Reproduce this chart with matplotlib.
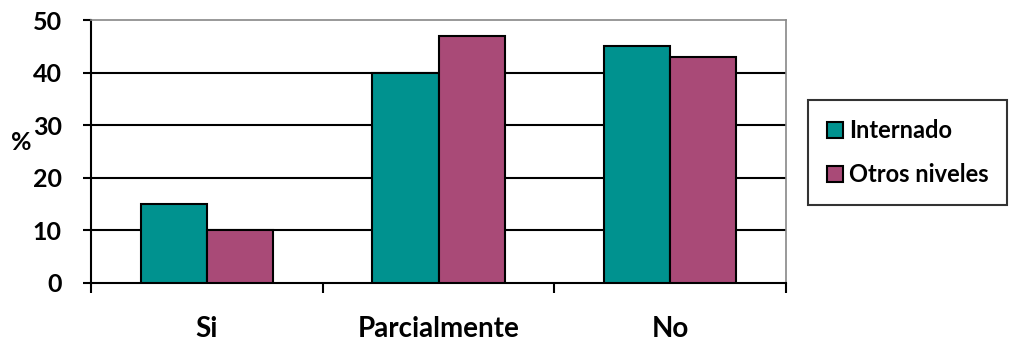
import matplotlib.pyplot as plt
import numpy as np

# data
categories = ['Si', 'Parcialmente', 'No']
internado = [15, 40, 45]
otros_niveles = [10, 47, 43]
series_names = ['Internado', 'Otros niveles']
y_ticks = [0, 10, 20, 30, 40, 50]

plt.rcParams['font.family'] = ['Lato', 'DejaVu Sans']
plt.rcParams['font.weight'] = 'bold'

fig = plt.figure(figsize=(10.11, 3.45), dpi=100)
ax = fig.add_axes([0.090, 0.180, 0.6875, 0.762])

x = np.arange(len(categories))
w = 1 / 3.5  # excel gap width 150%
ax.bar(x - w / 2, internado, w, color='#00928F', edgecolor='black', linewidth=1.5,
       label=series_names[0], zorder=3)
ax.bar(x + w / 2, otros_niveles, w, color='#A94A77', edgecolor='black', linewidth=1.5,
       label=series_names[1], zorder=3)

ax.set_xlim(-0.5, len(categories) - 0.5)
ax.set_ylim(0, 50)
ax.set_yticks(y_ticks)
ax.set_yticklabels([str(v) for v in y_ticks], fontsize=18, fontweight='bold')

# gridlines (black, except the top one which is grey like the plot border)
for v in y_ticks[1:-1]:
    ax.axhline(v, color='black', linewidth=1.5, zorder=1)

ax.set_xticks(x)
ax.set_xticklabels(categories, fontsize=20, fontweight='bold')
ax.tick_params(axis='x', length=0, pad=24)
ax.set_xticks(np.arange(-0.5, len(categories)), minor=True)
ax.tick_params(axis='x', which='minor', length=7, width=1.5, direction='out')
ax.tick_params(axis='y', length=6, width=1.5, direction='out', pad=15)

ax.spines['left'].set_linewidth(1.5)
ax.spines['bottom'].set_linewidth(1.5)
ax.spines['top'].set_color('#888888')
ax.spines['right'].set_color('#888888')
ax.spines['top'].set_linewidth(1.2)
ax.spines['right'].set_linewidth(1.2)

fig.text(21 / 1011, 1 - 143 / 345, '%', fontsize=18, fontweight='bold',
         ha='center', va='center')

leg = fig.legend(loc='upper left', bbox_to_anchor=(808 / 1011, 1 - 100 / 345),
                 prop={'size': 17, 'weight': 'bold'}, frameon=True, fancybox=False,
                 handlelength=0.68, handleheight=0.68, handletextpad=0.25,
                 labelspacing=0.9, borderpad=0.8, borderaxespad=0)
leg.get_frame().set_edgecolor('black')
leg.get_frame().set_linewidth(1.5)

fig.savefig('out.png', dpi=100)
